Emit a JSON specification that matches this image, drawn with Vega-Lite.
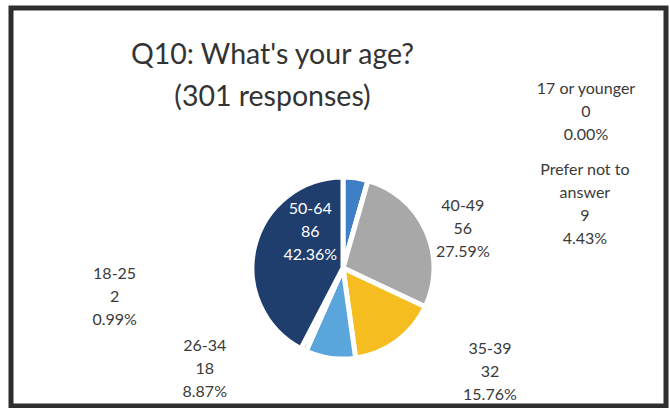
{
  "$schema": "https://vega.github.io/schema/vega-lite/v6.json",
  "width": 655,
  "height": 398,
  "autosize": {"type": "none"},
  "padding": {"left": 11, "top": 8, "right": 4, "bottom": 2},
  "background": "white",
  "view": {"stroke": "#2e2e2e", "strokeWidth": 5, "fill": "white"},
  "config": {"view": {"stroke": "#2e2e2e", "strokeWidth": 5}, "font": "Lato"},
  "title": {
    "text": ["Q10: What's your age?", "(301 responses)"],
    "font": "Lato", "fontSize": 28.5, "fontWeight": "normal", "color": "#333333",
    "anchor": "middle", "baseline": "top", "offset": -69, "dx": -66, "dy": 34, "lineHeight": 42
  },
  "data": {"values": [
    {"age": "Prefer not to answer", "count": 9, "pct": "4.43%"},
    {"age": "17 or younger", "count": 0, "pct": "0.00%"},
    {"age": "40-49", "count": 56, "pct": "27.59%"},
    {"age": "35-39", "count": 32, "pct": "15.76%"},
    {"age": "26-34", "count": 18, "pct": "8.87%"},
    {"age": "18-25", "count": 2, "pct": "0.99%"},
    {"age": "50-64", "count": 86, "pct": "42.36%"}
  ]},
  "transform": [
    {"window": [{"op": "row_number", "as": "ord"}]},
    {"stack": "count", "groupby": [], "sort": [{"field": "ord", "order": "ascending"}], "as": ["s0", "s1"]},
    {"calculate": "(datum.s0 + datum.s1) / 2", "as": "mid"},
    {"calculate": "replace(datum.age, 'not to ', 'not to|') + '|' + datum.count + '|' + datum.pct", "as": "lbl"}
  ],
  "layer": [
    {
      "mark": {"type": "arc", "outerRadius": 91, "stroke": "white", "strokeWidth": 5,
               "x": {"expr": "width/2 + 4.5"}, "y": {"expr": "height/2 + 61"}},
      "encoding": {
        "theta": {"field": "s0", "type": "quantitative", "stack": null, "scale": {"domain": [0, 203]}},
        "theta2": {"field": "s1"},
        "color": {"field": "age", "type": "nominal", "legend": null,
          "scale": {"domain": ["Prefer not to answer", "17 or younger", "40-49", "35-39", "26-34", "18-25", "50-64"],
                    "range": ["#3f7fc6", "#ed7d31", "#a8a8a8", "#f5bd1f", "#5aa5dc", "#70ad47", "#1f3e6e"]}}
      }
    },
    {
      "transform": [{"filter": "datum.age == '50-64'"}],
      "mark": {"type": "text", "x": {"expr": "width/2 + 4.5"}, "y": {"expr": "height/2 + 61"}, "radius": 45, "dx": 11, "dy": -48,
               "lineBreak": "|", "fontSize": 16, "lineHeight": 23, "color": "white", "align": "center", "baseline": "middle"},
      "encoding": {"theta": {"field": "mid", "type": "quantitative", "stack": null}, "text": {"field": "lbl"}}
    },
    {
      "transform": [{"filter": "datum.age == '40-49'"}],
      "mark": {"type": "text", "x": {"expr": "width/2 + 4.5"}, "y": {"expr": "height/2 + 61"}, "radius": 125, "dx": 6, "dy": -10,
               "lineBreak": "|", "fontSize": 16, "lineHeight": 23, "color": "#3a3a3a", "align": "center", "baseline": "middle"},
      "encoding": {"theta": {"field": "mid", "type": "quantitative", "stack": null}, "text": {"field": "lbl"}}
    },
    {
      "transform": [{"filter": "datum.age == '35-39'"}],
      "mark": {"type": "text", "x": {"expr": "width/2 + 4.5"}, "y": {"expr": "height/2 + 61"}, "radius": 150, "dx": 58, "dy": -40,
               "lineBreak": "|", "fontSize": 16, "lineHeight": 23, "color": "#3a3a3a", "align": "center", "baseline": "middle"},
      "encoding": {"theta": {"field": "mid", "type": "quantitative", "stack": null}, "text": {"field": "lbl"}}
    },
    {
      "transform": [{"filter": "datum.age == '26-34'"}],
      "mark": {"type": "text", "x": {"expr": "width/2 + 4.5"}, "y": {"expr": "height/2 + 61"}, "radius": 110, "dx": -123, "dy": -31,
               "lineBreak": "|", "fontSize": 16, "lineHeight": 23, "color": "#3a3a3a", "align": "center", "baseline": "middle"},
      "encoding": {"theta": {"field": "mid", "type": "quantitative", "stack": null}, "text": {"field": "lbl"}}
    },
    {
      "transform": [{"filter": "datum.age == '18-25'"}],
      "mark": {"type": "text", "x": {"expr": "width/2 + 4.5"}, "y": {"expr": "height/2 + 61"}, "radius": 100, "dx": -185, "dy": -84,
               "lineBreak": "|", "fontSize": 16, "lineHeight": 23, "color": "#3a3a3a", "align": "center", "baseline": "middle"},
      "encoding": {"theta": {"field": "mid", "type": "quantitative", "stack": null}, "text": {"field": "lbl"}}
    },
    {
      "transform": [{"filter": "datum.age == 'Prefer not to answer'"}],
      "mark": {"type": "text", "x": {"expr": "width/2 + 4.5"}, "y": {"expr": "height/2 + 61"}, "radius": 100, "dx": 228, "dy": 1.5,
               "lineBreak": "|", "fontSize": 16, "lineHeight": 23, "color": "#3a3a3a", "align": "center", "baseline": "middle"},
      "encoding": {"theta": {"field": "mid", "type": "quantitative", "stack": null}, "text": {"field": "lbl"}}
    },
    {
      "transform": [{"filter": "datum.age == '17 or younger'"}],
      "mark": {"type": "text", "x": {"expr": "width/2 + 4.5"}, "y": {"expr": "height/2 + 61"}, "radius": 160, "dx": 199, "dy": -25,
               "lineBreak": "|", "fontSize": 16, "lineHeight": 23, "color": "#3a3a3a", "align": "center", "baseline": "middle"},
      "encoding": {"theta": {"field": "mid", "type": "quantitative", "stack": null}, "text": {"field": "lbl"}}
    }
  ]
}
